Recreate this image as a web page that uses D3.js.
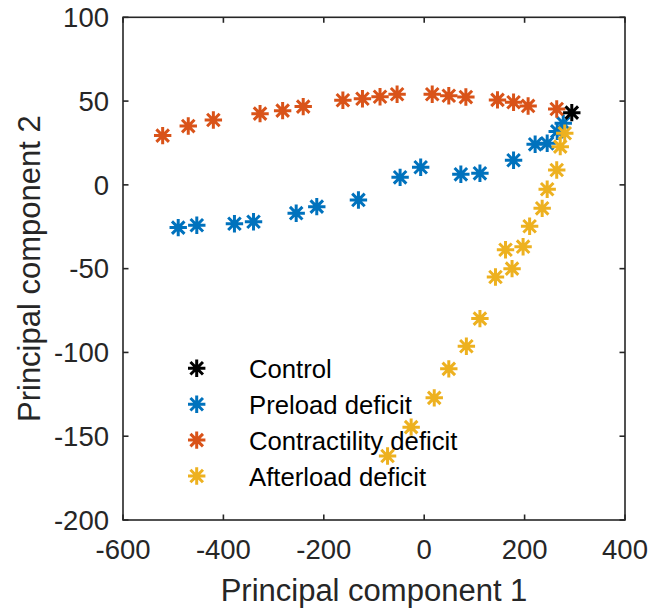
<!DOCTYPE html>
<html>
<head>
<meta charset="utf-8">
<script src="https://cdn.jsdelivr.net/npm/d3@7"></script>
<style>
  html, body { margin: 0; padding: 0; background: #fff; }
  svg { display: block; font-family: "Liberation Sans", Arial, Helvetica, sans-serif; }
</style>
</head>
<body>
<svg id="chart" width="663" height="608"></svg>
<script>
// Principal component scores for each condition
const controlPC1 = [294];
const controlPC2 = [43.1];

const preloadPC1 = [-490, -453, -378, -340, -255, -214, -131, -48, -7, 73, 111, 178, 221, 245, 265, 277];
const preloadPC2 = [-25.5, -24.1, -23.2, -22, -16.9, -13, -9, 4.5, 10.5, 6.3, 6.9, 14.7, 24.2, 24.8, 31.9, 36.8];

const contractPC1 = [-521, -470, -420, -327, -282, -241, -162, -123, -88, -54, 16, 49, 83, 146, 178, 207, 264];
const contractPC2 = [29.4, 35.1, 38.7, 42.5, 44.3, 46.7, 50.5, 51.4, 52.6, 54.1, 54.1, 53.2, 52.4, 50.7, 49.3, 47.1, 45.3];

const afterloadPC1 = [280, 271, 264, 245, 235, 210, 197, 162, 175, 142, 111, 84, 49, 20, -26, -73];
const afterloadPC2 = [30.8, 22.8, 8.9, -2.6, -14, -24.7, -36.9, -38.7, -50, -55, -79.8, -96.3, -109.8, -127.1, -144.6, -161.8];

const xTicks = [-600, -400, -200, 0, 200, 400];
const yTicks = [-200, -150, -100, -50, 0, 50, 100];
const xLabel = "Principal component 1";
const yLabel = "Principal component 2";

const seriesNames = ["Control", "Preload deficit", "Contractility deficit", "Afterload deficit"];
const seriesColors = ["#000000", "#0072BD", "#D95319", "#EDB120"];

const series = [
  { name: seriesNames[0], color: seriesColors[0], x: controlPC1, y: controlPC2 },
  { name: seriesNames[1], color: seriesColors[1], x: preloadPC1, y: preloadPC2 },
  { name: seriesNames[2], color: seriesColors[2], x: contractPC1, y: contractPC2 },
  { name: seriesNames[3], color: seriesColors[3], x: afterloadPC1, y: afterloadPC2 }
];

const svg = d3.select("#chart");
const plotLeft = 123, plotRight = 625, plotTop = 17.3, plotBottom = 520;
const axisColor = "#262626";

const x = d3.scaleLinear().domain([-600, 400]).range([plotLeft, plotRight]);
const y = d3.scaleLinear().domain([-200, 100]).range([plotBottom, plotTop]);

// Plain hyphen-minus for negative tick values
const tickText = t => String(t);

// Asterisk marker: a plus and a cross overlaid
function asterisk(g, cx, cy, color) {
  const r = 8.7, d = r * 0.72;
  const p = `M${cx - r},${cy}L${cx + r},${cy}M${cx},${cy - r}L${cx},${cy + r}` +
            `M${cx - d},${cy - d}L${cx + d},${cy + d}M${cx - d},${cy + d}L${cx + d},${cy - d}`;
  g.append("path").attr("d", p).attr("stroke", color).attr("stroke-width", 3)
    .attr("fill", "none").attr("stroke-linecap", "butt");
}

// Axes box with inward ticks on all four sides
const axes = svg.append("g");
axes.append("rect").attr("x", plotLeft).attr("y", plotTop)
  .attr("width", plotRight - plotLeft).attr("height", plotBottom - plotTop)
  .attr("fill", "none").attr("stroke", axisColor).attr("stroke-width", 1.6);

const tickLen = 5.5;
xTicks.forEach(t => {
  const px = x(t);
  axes.append("line").attr("x1", px).attr("x2", px).attr("y1", plotBottom).attr("y2", plotBottom - tickLen)
    .attr("stroke", axisColor).attr("stroke-width", 1.6);
  axes.append("line").attr("x1", px).attr("x2", px).attr("y1", plotTop).attr("y2", plotTop + tickLen)
    .attr("stroke", axisColor).attr("stroke-width", 1.6);
  axes.append("text").attr("x", px).attr("y", 559).attr("text-anchor", "middle")
    .attr("font-size", 27.5).attr("fill", axisColor).text(tickText(t));
});
yTicks.forEach(t => {
  const py = y(t);
  axes.append("line").attr("x1", plotLeft).attr("x2", plotLeft + tickLen).attr("y1", py).attr("y2", py)
    .attr("stroke", axisColor).attr("stroke-width", 1.6);
  axes.append("line").attr("x1", plotRight).attr("x2", plotRight - tickLen).attr("y1", py).attr("y2", py)
    .attr("stroke", axisColor).attr("stroke-width", 1.6);
  axes.append("text").attr("x", 109).attr("y", py + 9.8).attr("text-anchor", "end")
    .attr("font-size", 27.5).attr("fill", axisColor).text(tickText(t));
});

// Axis titles
svg.append("text").attr("x", (plotLeft + plotRight) / 2).attr("y", 601).attr("text-anchor", "middle")
  .attr("font-size", 31).attr("fill", axisColor).text(xLabel);
svg.append("text").attr("transform", `translate(40,${(plotTop + plotBottom) / 2}) rotate(-90)`)
  .attr("text-anchor", "middle").attr("font-size", 31).attr("fill", axisColor).text(yLabel);

// Data markers
const marks = svg.append("g");
[1, 2, 3, 0].forEach(i => {
  const s = series[i];
  s.x.forEach((v, j) => asterisk(marks, x(v), y(s.y[j]), s.color));
});

// Legend
const legend = svg.append("g");
series.forEach((s, i) => {
  const ly = 368.3 + i * 35.9;
  asterisk(legend, 196.7, ly, s.color);
  legend.append("text").attr("x", 249).attr("y", ly + 9.5).attr("font-size", 25.7)
    .attr("fill", "#000").text(s.name);
});
</script>
</body>
</html>
